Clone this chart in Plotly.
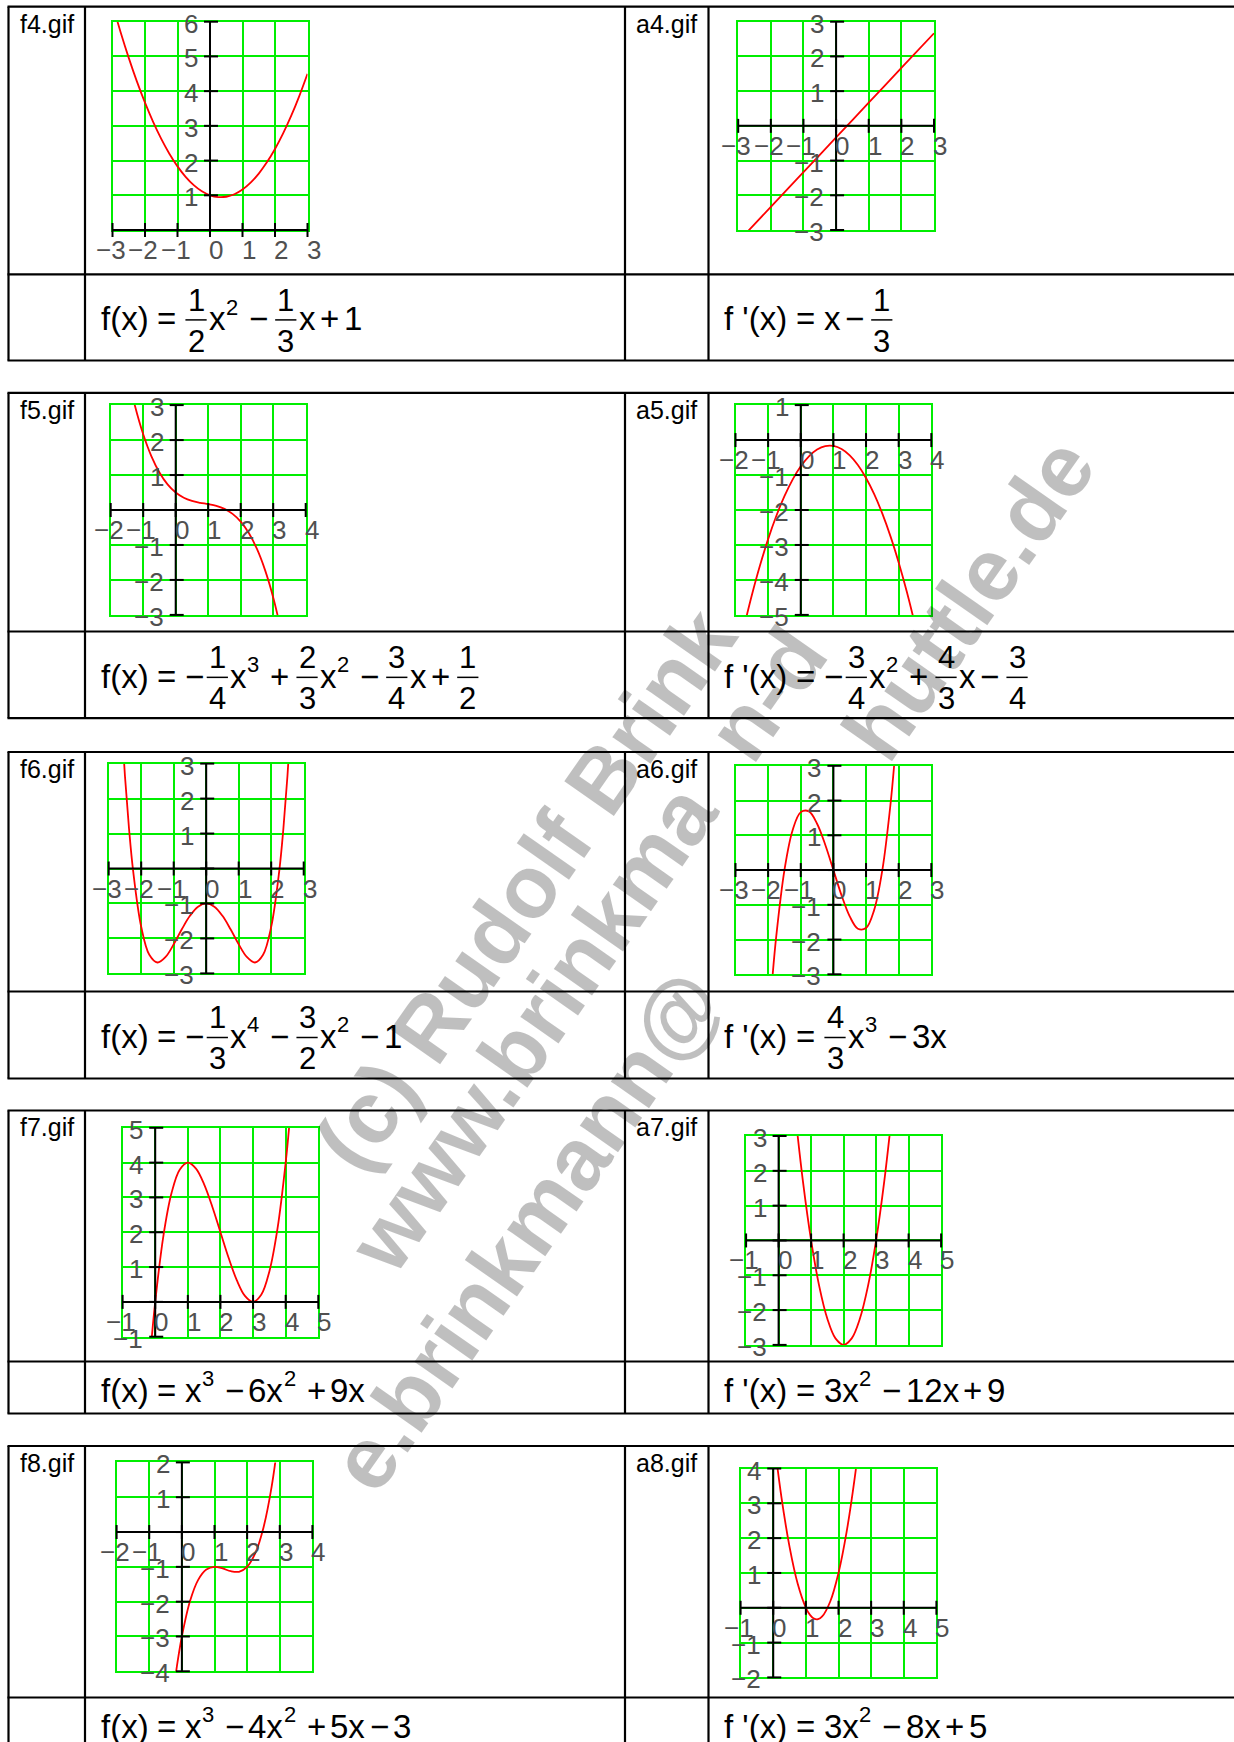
import math
import plotly.graph_objects as go

W, H = 1234, 1742

# ---- curve points ----
f4_x = [-3, -2.75, -2.5, -2.25, -2, -1.75, -1.5, -1.25, -1, -0.75, -0.5, -0.25, 0,
        0.25, 0.5, 0.75, 1, 1.25, 1.5, 1.75, 2, 2.25, 2.5, 2.75, 3]
f4_y = [6.5, 5.698, 4.958, 4.281, 3.667, 3.115, 2.625, 2.198, 1.833, 1.531, 1.292, 1.115, 1.0,
        0.948, 0.958, 1.031, 1.167, 1.365, 1.625, 1.948, 2.333, 2.781, 3.292, 3.865, 4.5]
a4_x = [-3, -2, -1, 0, 1, 2, 3]
a4_y = [-3.333, -2.333, -1.333, -0.333, 0.667, 1.667, 2.667]
f5_x = [-1.5, -1.25, -1, -0.75, -0.5, -0.25, 0, 0.25, 0.5, 0.75, 1, 1.25, 1.5, 1.75, 2,
        2.25, 2.5, 2.75, 3, 3.25]
f5_y = [3.969, 2.967, 2.167, 1.543, 1.073, 0.733, 0.5, 0.35, 0.26, 0.207, 0.167, 0.116,
        0.031, -0.111, -0.333, -0.66, -1.115, -1.72, -2.5, -3.478]
a5_x = [-1.75, -1.5, -1.25, -1, -0.75, -0.5, -0.25, 0, 0.25, 0.5, 0.75, 1, 1.25, 1.5,
        1.75, 2, 2.25, 2.5, 2.75, 3, 3.25, 3.5]
a5_y = [-5.38, -4.438, -3.589, -2.833, -2.172, -1.604, -1.13, -0.75, -0.464, -0.271,
        -0.172, -0.167, -0.255, -0.438, -0.714, -1.083, -1.547, -2.104, -2.755, -3.5,
        -4.339, -5.271]
f6_x = [-2.75, -2.625, -2.5, -2.375, -2.25, -2, -1.75, -1.5, -1.25, -1, -0.75, -0.5, -0.25, 0,
        0.25, 0.5, 0.75, 1, 1.25, 1.5, 1.75, 2, 2.25, 2.375, 2.5, 2.625, 2.75]
f6_y = [6.72, 4.491, 2.646, 1.145, -0.051, -1.667, -2.467, -2.688, -2.53, -2.167, -1.738,
        -1.354, -1.092, -1.0, -1.092, -1.354, -1.738, -2.167, -2.53, -2.688, -2.467, -1.667,
        -0.051, 1.145, 2.646, 4.491, 6.72]
a6_x = [-2, -1.875, -1.75, -1.5, -1.25, -1, -0.75, -0.5, -0.25, 0, 0.25, 0.5, 0.75, 1,
        1.25, 1.5, 1.75, 1.875, 2]
a6_y = [-4.667, -3.164, -1.896, 0.0, 1.146, 1.667, 1.688, 1.333, 0.729, 0.0, -0.729,
        -1.333, -1.688, -1.667, -1.146, 0.0, 1.896, 3.164, 4.667]
f7_x = [-0.25, -0.125, 0, 0.25, 0.5, 0.75, 1, 1.25, 1.5, 1.75, 2, 2.25, 2.5, 2.75, 3,
        3.25, 3.5, 3.75, 4, 4.125, 4.25]
f7_y = [-2.641, -1.221, 0.0, 1.891, 3.125, 3.797, 4.0, 3.828, 3.375, 2.734, 2.0, 1.266,
        0.625, 0.172, 0.0, 0.203, 0.875, 2.109, 4.0, 5.221, 6.641]
a7_x = [0.5, 0.75, 1, 1.25, 1.5, 1.75, 2, 2.25, 2.5, 2.75, 3, 3.25, 3.5]
a7_y = [3.75, 1.688, 0.0, -1.313, -2.25, -2.813, -3.0, -2.813, -2.25, -1.313, 0.0, 1.688, 3.75]
f8_x = [-0.25, -0.125, 0, 0.25, 0.5, 0.75, 1, 1.25, 1.5, 1.75, 2, 2.25, 2.5, 2.75, 3]
f8_y = [-4.516, -3.689, -3.0, -1.984, -1.375, -1.078, -1.0, -1.047, -1.125, -1.141, -1.0,
        -0.609, 0.125, 1.297, 3.0]
a8_x = [0, 0.25, 0.5, 0.75, 1, 1.125, 1.25, 1.375, 1.5, 1.75, 2, 2.25, 2.5, 2.75]
a8_y = [5.0, 3.188, 1.75, 0.688, 0.0, -0.203, -0.313, -0.328, -0.25, 0.188, 1.0, 2.188,
        3.75, 5.688]

# ---- formulas as tokens: t text, r relation, o operator, u unary minus, f fraction, s superscript ----
f4_formula = [("t", "f(x)"), ("r", "="), ("f", "1", "2"), ("t", "x"), ("s", "2"), ("o", "−"),
              ("f", "1", "3"), ("t", "x"), ("o", "+"), ("t", "1")]
a4_formula = [("t", "f '(x)"), ("r", "="), ("t", "x"), ("o", "−"), ("f", "1", "3")]
f5_formula = [("t", "f(x)"), ("r", "="), ("u", "−"), ("f", "1", "4"), ("t", "x"), ("s", "3"),
              ("o", "+"), ("f", "2", "3"), ("t", "x"), ("s", "2"), ("o", "−"), ("f", "3", "4"),
              ("t", "x"), ("o", "+"), ("f", "1", "2")]
a5_formula = [("t", "f '(x)"), ("r", "="), ("u", "−"), ("f", "3", "4"), ("t", "x"), ("s", "2"),
              ("o", "+"), ("f", "4", "3"), ("t", "x"), ("o", "−"), ("f", "3", "4")]
f6_formula = [("t", "f(x)"), ("r", "="), ("u", "−"), ("f", "1", "3"), ("t", "x"), ("s", "4"),
              ("o", "−"), ("f", "3", "2"), ("t", "x"), ("s", "2"), ("o", "−"), ("t", "1")]
a6_formula = [("t", "f '(x)"), ("r", "="), ("f", "4", "3"), ("t", "x"), ("s", "3"), ("o", "−"),
              ("t", "3x")]
f7_formula = [("t", "f(x)"), ("r", "="), ("t", "x"), ("s", "3"), ("o", "−"), ("t", "6x"),
              ("s", "2"), ("o", "+"), ("t", "9x")]
a7_formula = [("t", "f '(x)"), ("r", "="), ("t", "3x"), ("s", "2"), ("o", "−"), ("t", "12x"),
              ("o", "+"), ("t", "9")]
f8_formula = [("t", "f(x)"), ("r", "="), ("t", "x"), ("s", "3"), ("o", "−"), ("t", "4x"),
              ("s", "2"), ("o", "+"), ("t", "5x"), ("o", "−"), ("t", "3")]
a8_formula = [("t", "f '(x)"), ("r", "="), ("t", "3x"), ("s", "2"), ("o", "−"), ("t", "8x"),
              ("o", "+"), ("t", "5")]

watermark_lines = ["(c) Rudolf Brinkmann", "www.brinkmann-du.de", "e.brinkmann@karl-schuttle.de"]

# ---- page geometry (px) ----
TABLES = [(6.7, 274.3, 360.5), (392.8, 631.5, 718.2), (752.0, 991.5, 1078.5),
          (1110.5, 1361.5, 1413.5), (1446.0, 1697.5, 1790.0)]
COL_X = [8.5, 85.0, 625.0, 708.5]

# label, x, y, x range, y range, formula, table, column, grid box (x0, x1, top, bottom)
PANELS = [
    ("f4.gif", f4_x, f4_y, (-3, 3), (0, 6), f4_formula, 0, 0, (112.5, 307.5, 21.7, 230.0)),
    ("a4.gif", a4_x, a4_y, (-3, 3), (-3, 3), a4_formula, 0, 1, (738.2, 934.0, 21.7, 230.0)),
    ("f5.gif", f5_x, f5_y, (-2, 4), (-3, 3), f5_formula, 1, 0, (110.7, 305.7, 405.1, 614.9)),
    ("a5.gif", a5_x, a5_y, (-2, 4), (-5, 1), a5_formula, 1, 1, (735.5, 931.3, 405.1, 614.9)),
    ("f6.gif", f6_x, f6_y, (-3, 3), (-3, 3), f6_formula, 2, 0, (108.7, 303.7, 763.6, 973.4)),
    ("a6.gif", a6_x, a6_y, (-3, 3), (-3, 3), a6_formula, 2, 1, (735.5, 931.3, 765.8, 974.3)),
    ("f7.gif", f7_x, f7_y, (-1, 5), (-1, 5), f7_formula, 3, 0, (122.6, 318.3, 1127.8, 1336.7)),
    ("a7.gif", a7_x, a7_y, (-1, 5), (-3, 3), a7_formula, 3, 1, (746.1, 941.1, 1136.0, 1344.9)),
    ("f8.gif", f8_x, f8_y, (-2, 4), (-4, 2), f8_formula, 4, 0, (116.6, 312.4, 1462.4, 1671.3)),
    ("a8.gif", a8_x, a8_y, (-1, 5), (-2, 4), a8_formula, 4, 1, (740.6, 936.4, 1468.5, 1677.4)),
]

GREEN = "#00ee00"
FONT = "Liberation Sans, Arial, sans-serif"
TICK_FONT = "Liberation Sans Narrow, Arial Narrow, Liberation Sans, sans-serif"
FS, FF, SS = 33, 31, 22

REG = {"f": 278, "(": 333, ")": 333, "x": 500, " ": 278, "'": 191, "=": 584, "−": 584, "+": 584}
for d in "0123456789":
    REG[d] = 556
BOLD = {"(": 333, ")": 333, " ": 278, ".": 278, "-": 333, "@": 975, "B": 722, "R": 722,
        "a": 556, "b": 611, "c": 556, "d": 611, "e": 556, "f": 333, "h": 611, "i": 278,
        "k": 556, "l": 278, "m": 889, "n": 611, "o": 611, "r": 389, "s": 556, "t": 333,
        "u": 611, "w": 778}


def tw(s, size):
    return sum(REG[c] for c in s) * size / 1000


annotations = []
shapes = []


def put(text, x, base, size, anchor="left"):
    annotations.append(dict(text=text, x=x / W, y=1 - (base - 0.3465 * size) / H,
                            xref="paper", yref="paper", xanchor=anchor, yanchor="middle",
                            showarrow=False, borderpad=0,
                            font=dict(family=FONT, size=size, color="black")))


def paper_line(x0, y0, x1, y1, width):
    shapes.append(dict(type="line", xref="paper", yref="paper", x0=x0 / W, x1=x1 / W,
                       y0=1 - y0 / H, y1=1 - y1 / H, layer="above",
                       line=dict(color="black", width=width)))


def add_formula(tokens, x0, base):
    cur, prev = x0, None
    for tok in tokens:
        kind = tok[0]
        if kind == "t":
            put(tok[1], cur, base, FS)
            cur += tw(tok[1], FS)
        elif kind == "s":
            cur += 0.5
            put(tok[1], cur, base - 15.5, SS)
            cur += tw(tok[1], SS)
        elif kind == "r":
            cur += 8.5
            put(tok[1], cur, base, FS)
            cur += tw(tok[1], FS) + 9
        elif kind == "u":
            put(tok[1], cur, base, FS)
            cur += tw(tok[1], FS) + 2
        elif kind == "o":
            cur += 4.5 + (6 if prev == "s" else 0)
            put(tok[1], cur, base, FS)
            cur += tw(tok[1], FS) + 4.5
        elif kind == "f":
            cur += 1.5 + (2 if prev == "o" else 0)
            bw = max(tw(tok[1], FF), tw(tok[2], FF)) + 4
            bar = base - 10.5
            paper_line(cur, bar, cur + bw, bar, 1.5)
            put(tok[1], cur + bw / 2, bar - 9.0, FF, "center")
            put(tok[2], cur + bw / 2, bar + 32.0, FF, "center")
            cur += bw + 1.5
        prev = kind


# ---- watermark (drawn first so the table text sits on top) ----
WM_SIZE, WM_ANGLE = 88, 55
wm_anchor = [(0, 345, 1147), (0, 388, 1234), (11, 676, 1016)]
hide_boxes = []
for p in PANELS:
    bx0, bx1, byt, byb = p[8]
    left, right = (24, 14) if p[7] == 1 else (22, 20)
    hide_boxes.append((bx0 - left, bx1 + right, byt - 14, byb + 14))
ux, uy = math.cos(math.radians(WM_ANGLE)), -math.sin(math.radians(WM_ANGLE))
for text, (ai, ax0, ay0) in zip(watermark_lines, wm_anchor):
    starts, pos = [], 0
    for c in text:
        starts.append(pos)
        pos += BOLD[c]
    k = WM_SIZE / 1000
    ref = (starts[ai] + BOLD[text[ai]] / 2) * k
    vis = []
    for i, c in enumerate(text):
        d = (starts[i] + BOLD[c] / 2) * k - ref
        cx, cy = ax0 + ux * d, ay0 + uy * d
        vis.append(not any(b[0] <= cx <= b[1] and b[2] <= cy <= b[3] for b in hide_boxes))
    i = 0
    while i < len(text):
        if not vis[i] or text[i] == " ":
            i += 1
            continue
        j = i
        while j < len(text) and vis[j]:
            j += 1
        while text[j - 1] == " ":
            j -= 1
        s0 = starts[i] * k
        s1 = (starts[j - 1] + BOLD[text[j - 1]]) * k
        d = (s0 + s1) / 2 - ref
        cx, cy = ax0 + ux * d, ay0 + uy * d
        annotations.append(dict(text=text[i:j], x=cx / W, y=1 - cy / H, xref="paper",
                                yref="paper", xanchor="center", yanchor="middle",
                                textangle=-WM_ANGLE, showarrow=False, borderpad=0,
                                font=dict(family=FONT, size=WM_SIZE, weight="bold",
                                          color="rgba(0,0,0,0.25)")))
        i = j

# ---- table frame ----
for top, sep, bottom in TABLES:
    for yy in (top, sep, bottom):
        paper_line(COL_X[0] - 1, yy, W + 5, yy, 2.2)
    for xx in COL_X:
        paper_line(xx, top, xx, bottom, 2.2)

# ---- panels ----
fig = go.Figure()
GRID = dict(dtick=1, tick0=0, showgrid=True, gridcolor=GREEN, gridwidth=1.5, zeroline=False,
            showline=True, mirror=True, linecolor=GREEN, linewidth=1.5,
            showticklabels=False, ticks="", fixedrange=True)
axes = {}
black = dict(color="black", width=2)
tick_font = dict(family=TICK_FONT, size=26, color="#505050")
for n, (label, xs, ys, xr, yr, formula, t_i, col, box) in enumerate(PANELS, start=1):
    sx = "" if n == 1 else str(n)
    gx0, gx1, gyt, gyb = box
    axes["xaxis" + sx] = dict(domain=[gx0 / W, gx1 / W], range=list(xr), anchor="y" + sx, **GRID)
    axes["yaxis" + sx] = dict(domain=[1 - gyb / H, 1 - gyt / H], range=list(yr), anchor="x" + sx, **GRID)
    fig.add_trace(go.Scatter(x=xs, y=ys, mode="lines", xaxis="x" + sx, yaxis="y" + sx,
                             line=dict(color="#ff0000", width=1.8, shape="spline", smoothing=1),
                             hoverinfo="skip"))

    xd, yd = "x" + sx + " domain", "y" + sx + " domain"
    fx0 = (0 - xr[0]) / (xr[1] - xr[0])
    fy0 = (0 - yr[0]) / (yr[1] - yr[0])
    shapes.append(dict(type="line", xref=xd, yref=yd, x0=0, x1=1, y0=fy0, y1=fy0, line=black, layer="above"))
    shapes.append(dict(type="line", xref=xd, yref=yd, x0=fx0, x1=fx0, y0=0, y1=1, line=black, layer="above"))
    for t in range(xr[0], xr[1] + 1):
        f = (t - xr[0]) / (xr[1] - xr[0])
        shapes.append(dict(type="line", xref=xd, yref=yd, x0=f, x1=f, ysizemode="pixel",
                           yanchor=fy0, y0=-7, y1=7, line=black, layer="above"))
        annotations.append(dict(text=str(t).replace("-", "−"), x=t, y=0, xref="x" + sx,
                                yref="y" + sx, xanchor="right", yanchor="middle", xshift=14,
                                yshift=-20, showarrow=False, borderpad=0, font=tick_font))
    for t in range(yr[0], yr[1] + 1):
        f = (t - yr[0]) / (yr[1] - yr[0])
        shapes.append(dict(type="line", xref=xd, yref=yd, y0=f, y1=f, xsizemode="pixel",
                           xanchor=fx0, x0=-6, x1=8, line=black, layer="above"))
        if t != 0:
            annotations.append(dict(text=str(t).replace("-", "−"), x=0, y=t, xref="x" + sx,
                                    yref="y" + sx, xanchor="right", yanchor="middle", xshift=-11,
                                    yshift=-2, showarrow=False, borderpad=0, font=tick_font))

    top, sep, bottom = TABLES[t_i]
    put(label, COL_X[2 * col] + 10, top + 25.6, 25)
    has_frac = any(tok[0] == "f" for p in PANELS if p[6] == t_i for tok in p[5])
    base = (sep + bottom) / 2 + 13 if has_frac else sep + 40.5
    add_formula(formula, COL_X[2 * col + 1] + 14.5, base)

fig.update_layout(width=W, height=H, margin=dict(l=0, r=0, t=0, b=0),
                  paper_bgcolor="white", plot_bgcolor="white", showlegend=False,
                  annotations=annotations, shapes=shapes, **axes)

fig.write_html("out.html", config={"displayModeBar": False},
               post_script="document.body.style.margin='0';")
